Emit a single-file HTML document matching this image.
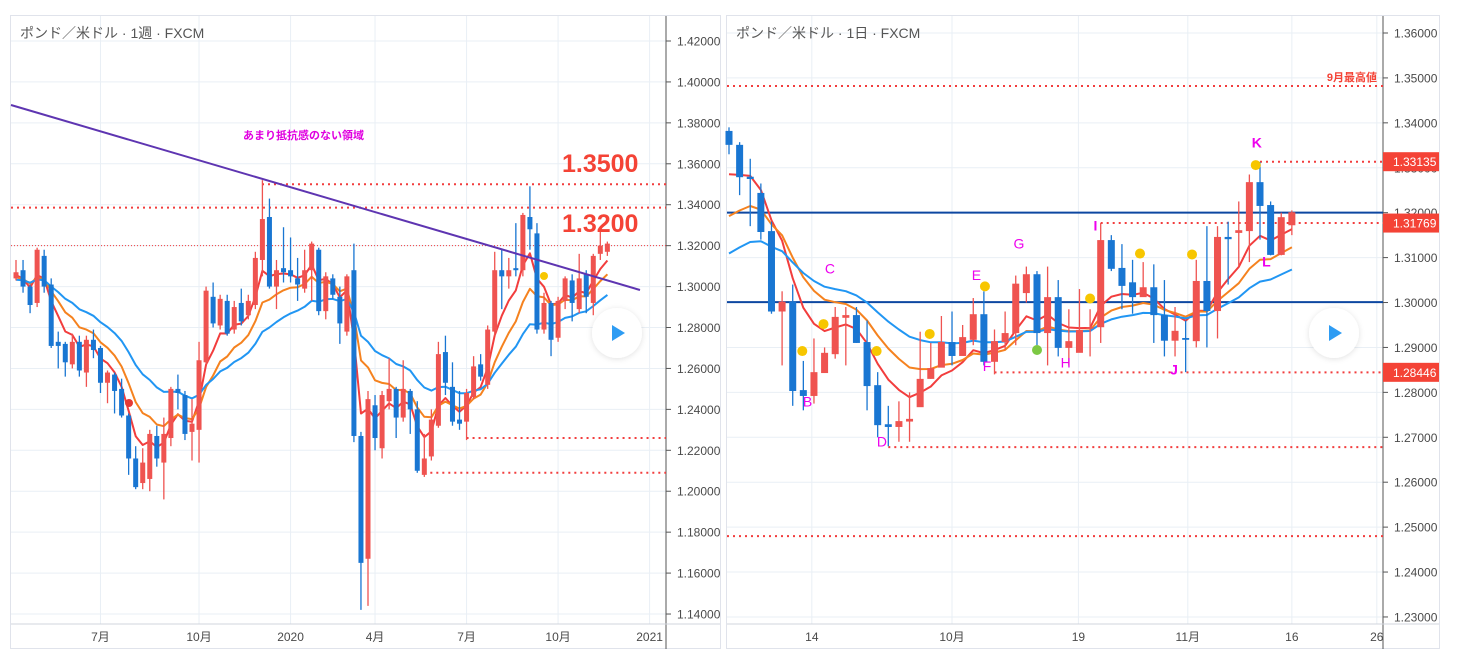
<!DOCTYPE html>
<html><head><meta charset="utf-8"><style>
html,body{margin:0;padding:0;background:#fff;}
svg{display:block;font-family:"Liberation Sans","Noto Sans CJK JP",sans-serif;}
</style></head><body>
<svg id="c" width="1459" height="659" viewBox="0 0 1459 659" xmlns="http://www.w3.org/2000/svg">
<defs>
<clipPath id="cl"><rect x="11" y="16" width="655" height="608"/></clipPath>
<clipPath id="cr"><rect x="727" y="16" width="656" height="608"/></clipPath>
<filter id="sh" x="-50%" y="-50%" width="200%" height="200%"><feDropShadow dx="0" dy="1" stdDeviation="3" flood-color="#000" flood-opacity="0.12"/></filter>
</defs>
<rect x="10.5" y="15.5" width="710" height="633" fill="#fff" stroke="#e0e3eb"/>
<rect x="726.5" y="15.5" width="713" height="633" fill="#fff" stroke="#e0e3eb"/>
<g id="L"></g><g id="R"></g>
</svg>
<script>
// ---------- weekly chart data ----------
const wOpen=[1.304,1.308,1.300,1.292,1.315,1.301,1.273,1.272,1.262,1.273,1.258,1.274,1.270,1.253,1.257,1.250,1.237,1.216,1.204,1.206,1.227,1.214,1.226,1.250,1.247,1.229,1.230,1.263,1.295,1.281,1.293,1.279,1.292,1.286,1.291,1.313,1.334,1.300,1.309,1.308,1.304,1.299,1.308,1.318,1.288,1.304,1.295,1.278,1.308,1.227,1.167,1.242,1.221,1.244,1.250,1.236,1.249,1.240,1.208,1.217,1.232,1.268,1.251,1.235,1.234,1.246,1.262,1.252,1.278,1.308,1.305,1.309,1.308,1.334,1.326,1.279,1.292,1.275,1.293,1.303,1.289,1.306,1.292,1.316,1.317];
const wClose=[1.307,1.300,1.291,1.318,1.300,1.271,1.271,1.263,1.273,1.259,1.274,1.269,1.253,1.258,1.249,1.237,1.216,1.202,1.214,1.228,1.216,1.228,1.250,1.248,1.228,1.233,1.264,1.298,1.282,1.294,1.277,1.290,1.283,1.293,1.314,1.333,1.300,1.308,1.307,1.305,1.301,1.308,1.321,1.288,1.305,1.296,1.282,1.305,1.227,1.165,1.245,1.226,1.247,1.250,1.236,1.250,1.240,1.210,1.216,1.235,1.267,1.253,1.234,1.233,1.248,1.261,1.256,1.279,1.308,1.305,1.308,1.308,1.335,1.328,1.279,1.292,1.274,1.293,1.304,1.292,1.304,1.295,1.315,1.320,1.321];
const wHigh=[1.313,1.313,1.301,1.319,1.318,1.304,1.278,1.273,1.277,1.276,1.276,1.279,1.271,1.259,1.258,1.255,1.238,1.222,1.221,1.230,1.232,1.236,1.251,1.257,1.249,1.245,1.273,1.300,1.302,1.296,1.296,1.293,1.299,1.296,1.317,1.352,1.343,1.313,1.329,1.324,1.314,1.318,1.322,1.319,1.307,1.306,1.300,1.306,1.321,1.229,1.249,1.247,1.249,1.265,1.251,1.264,1.250,1.244,1.228,1.240,1.273,1.276,1.263,1.249,1.250,1.266,1.267,1.281,1.317,1.318,1.314,1.331,1.336,1.349,1.331,1.297,1.293,1.295,1.305,1.306,1.316,1.308,1.316,1.328,1.322];
const wLow=[1.303,1.297,1.287,1.290,1.297,1.270,1.260,1.256,1.260,1.256,1.251,1.265,1.248,1.243,1.238,1.236,1.208,1.201,1.201,1.200,1.212,1.196,1.222,1.240,1.225,1.215,1.214,1.262,1.280,1.279,1.276,1.277,1.281,1.284,1.289,1.305,1.299,1.289,1.302,1.302,1.293,1.297,1.293,1.286,1.284,1.294,1.272,1.276,1.224,1.142,1.144,1.220,1.216,1.240,1.226,1.234,1.228,1.209,1.207,1.215,1.231,1.247,1.232,1.230,1.225,1.245,1.254,1.250,1.276,1.289,1.299,1.305,1.305,1.318,1.277,1.277,1.266,1.273,1.289,1.283,1.287,1.287,1.286,1.313,1.315];
const wTicks=[1.42,1.40,1.38,1.36,1.34,1.32,1.30,1.28,1.26,1.24,1.22,1.20,1.18,1.16,1.14];
const wXLabels=["7月","10月","2020","4月","7月","10月","2021"];
const wXIndex=[12,26,39,51,64,77,90];
const wLevels=[1.3500,1.3386,1.3200,1.2260,1.2090];
const wLevelStart=[35,0,0,64,58];
// ---------- daily chart data ----------
const dOpen=[1.3382,1.3351,1.3280,1.3244,1.3159,1.2980,1.3002,1.2805,1.2792,1.2843,1.2885,1.2966,1.2972,1.2912,1.2816,1.2729,1.2723,1.2735,1.2767,1.2830,1.2855,1.2912,1.2881,1.2917,1.2974,1.2868,1.2912,1.2932,1.3021,1.3063,1.2932,1.3012,1.2899,1.2888,1.2943,1.2945,1.3139,1.3077,1.3045,1.3012,1.3034,1.2972,1.2915,1.2921,1.2914,1.3048,1.2981,1.3146,1.3155,1.3159,1.3268,1.3217,1.3106,1.3172];
const dClose=[1.3351,1.3279,1.3275,1.3157,1.2980,1.3002,1.2803,1.2792,1.2845,1.2888,1.2968,1.2972,1.2910,1.2814,1.2727,1.2723,1.2736,1.2741,1.2830,1.2854,1.2912,1.2881,1.2923,1.2974,1.2868,1.2914,1.2932,1.3042,1.3063,1.2932,1.3012,1.2899,1.2914,1.2939,1.2945,1.3139,1.3075,1.3037,1.3012,1.3034,1.2972,1.2915,1.2937,1.2917,1.3048,1.2981,1.3146,1.3141,1.3161,1.3268,1.3215,1.3106,1.3190,1.3201];
const dHigh=[1.3390,1.3357,1.3320,1.3265,1.3180,1.3025,1.3040,1.2870,1.2920,1.2900,1.2990,1.2990,1.2990,1.2960,1.2845,1.2770,1.2780,1.2800,1.2935,1.2910,1.2970,1.2980,1.2950,1.3010,1.3025,1.2940,1.2980,1.3060,1.3080,1.3070,1.3080,1.3050,1.2985,1.3030,1.2985,1.3177,1.3150,1.3130,1.3095,1.3090,1.3085,1.3050,1.2990,1.2960,1.3095,1.3170,1.3170,1.3180,1.3225,1.3285,1.3313,1.3225,1.3200,1.3205];
const dLow=[1.3330,1.3239,1.3170,1.3140,1.2975,1.2860,1.2770,1.2760,1.2775,1.2860,1.2875,1.2860,1.2910,1.2760,1.2700,1.2680,1.2690,1.2690,1.2770,1.2830,1.2860,1.2860,1.2890,1.2905,1.2860,1.2840,1.2895,1.2905,1.3000,1.2905,1.2860,1.2880,1.2860,1.2890,1.2880,1.2910,1.3070,1.2985,1.2975,1.3020,1.2910,1.2880,1.2880,1.2845,1.2900,1.2900,1.2920,1.3040,1.3080,1.3090,1.3140,1.3105,1.3105,1.3150];
const dTicks=[1.36,1.35,1.34,1.33,1.32,1.31,1.30,1.29,1.28,1.27,1.26,1.25,1.24,1.23];
const dXLabels=["14","10月","19","11月","16","26"];
const dXIndex=[7.8,21,32.9,43.2,53,61];
const dNavy=[1.3200,1.3001];
const dDotted=[1.3482,1.33135,1.31769,1.28446,1.2678,1.2480];
const dDottedStart=[-1,50,35,25,15,-1];
const dBoxes=[1.33135,1.31769,1.28446];
const dLetters=["B","C","D","E","F","G","H","I","J","K","L"];
const dLetterIdx=[7.4,9.5,14.4,23.3,24.3,27.3,31.7,34.5,41.9,49.7,50.6];
const dLetterPrice=[1.2769,1.3065,1.2680,1.3050,1.2847,1.3120,1.2855,1.3160,1.2840,1.3345,1.3080];
const dDotIdx=[6.9,8.9,13.9,18.9,24.1,34,38.7,43.6,49.6];
const dDotPrice=[1.2892,1.2952,1.2892,1.2930,1.3036,1.3009,1.3109,1.3107,1.3306];

const NS="http://www.w3.org/2000/svg";
function mk(parent,tag,attrs,text){const e=document.createElementNS(NS,tag);for(const k in attrs)e.setAttribute(k,attrs[k]);if(text!==undefined)e.textContent=text;parent.appendChild(e);return e;}
function ema(vals,n,seed){const a=2/(n+1);let v=seed;return vals.map(c=>{v=v+a*(c-v);return v;});}

function drawChart(g,cfg){
  const {x,y,ticks,fmt,left,right,axisX,top,bottom,cw}=cfg;
  ticks.forEach(t=>{const yy=y(t);
    const gl=mk(g,'line',{x1:left,x2:axisX,y1:yy,y2:yy,stroke:'#e9eff5','stroke-width':1});
    
    mk(g,'line',{x1:axisX,x2:axisX+5,y1:yy,y2:yy,stroke:'#555'});
    const tl=mk(g,'text',{x:axisX+11,y:yy+4.5,'font-size':12,fill:'#4a4a4a'},fmt(t));
    
  });
  cfg.xIdx.forEach((xi,k)=>{const xx=x(xi);
    const gl=mk(g,'line',{x1:xx,x2:xx,y1:top,y2:bottom,stroke:'#e9eff5'});
    
    const tl=mk(g,'text',{x:xx,y:bottom+17,'font-size':12,fill:'#4a4a4a','text-anchor':'middle'},cfg.xLab[k]);
    
  });
  const ax=mk(g,'line',{x1:axisX,x2:axisX,y1:top,y2:bottom+25,stroke:'#555','stroke-width':1});
  
  const bx=mk(g,'line',{x1:left,x2:right,y1:bottom,y2:bottom,stroke:'#d0d4dc'});
  
}
function drawCandles(g,cfg,O,C,H,L){
  const {x,y,cw}=cfg;
  O.forEach((o,i)=>{const c=C[i];const up=c>=o;const col=up?'#ef5350':'#1976d2';const xx=x(i);
    const cg=mk(g,'g',{});
    
    mk(cg,'line',{x1:xx,x2:xx,y1:y(H[i]),y2:y(L[i]),stroke:col,'stroke-width':1.3});
    const t=y(Math.max(o,c)),b=y(Math.min(o,c));
    mk(cg,'rect',{x:xx-cw/2,y:t,width:cw,height:Math.max(1.5,b-t),fill:col});
  });
}
function drawMAs(g,cfg,C,periods,seeds,clip){
  const cols=['#f23d3d','#f5821f','#2196f3'];const nm=['ma-fast','ma-mid','ma-slow'];
  periods.forEach((p,k)=>{const v=ema(C,p,seeds[k]);
    const d=v.map((vv,i)=>(i?'L':'M')+cfg.x(i).toFixed(1)+' '+cfg.y(vv).toFixed(1)).join(' ');
    const pl=mk(g,'path',{d:d,fill:'none',stroke:cols[k],'stroke-width':2,'clip-path':clip,'stroke-linejoin':'round'});
    
  });
}
function play(g,cx,cy){
  const pg=mk(g,'g',{});
  
  mk(pg,'circle',{cx:cx,cy:cy,r:25,fill:'#fff',filter:'url(#sh)'});
  mk(pg,'path',{d:`M${cx-5} ${cy-8} L${cx+8} ${cy} L${cx-5} ${cy+8} Z`,fill:'#2e9cf3'});
}

// ---------- weekly ----------
const GL=document.getElementById('L');
const W={x:i=>16+i*7.04,y:p=>41+(1.42-p)/0.02*40.93,ticks:wTicks,fmt:t=>t.toFixed(5),left:11,right:720,axisX:666,top:16,bottom:624,cw:5,xIdx:wXIndex,xLab:wXLabels};
drawChart(GL,W);
wLevels.forEach((lv,k)=>{const l=mk(GL,'line',{x1:k===0?262:(wLevelStart[k]?W.x(wLevelStart[k]):11),x2:666,y1:W.y(lv),y2:W.y(lv),stroke:'#f23d3d','stroke-width':k===2?1:2,'stroke-dasharray':k===2?'1 2':'2 4'});
  });
drawMAs(GL,W,wClose,[5,10,20],[1.305,1.304,1.303],'url(#cl)');
drawCandles(GL,W,wOpen,wClose,wHigh,wLow);
const tr=mk(GL,'line',{x1:11,y1:105,x2:640,y2:290,stroke:'#5e35b1','stroke-width':2});

const wd=mk(GL,'circle',{cx:129,cy:403,r:4,fill:'#e53935'});
const wy=mk(GL,'circle',{cx:544,cy:276,r:4,fill:'#f7c600'});
const a1=mk(GL,'text',{x:562,y:172,'font-size':25,'font-weight':'bold',fill:'#f44336'},'1.3500');
const a2=mk(GL,'text',{x:562,y:232,'font-size':25,'font-weight':'bold',fill:'#f44336'},'1.3200');
const a3=mk(GL,'text',{x:243,y:139,'font-size':11,'font-weight':'bold',fill:'#e000e0'},'あまり抵抗感のない領域');
const t1=mk(GL,'text',{x:20,y:38,'font-size':14,fill:'#555'},'ポンド／米ドル · 1週 · FXCM');
play(GL,617,333);

// ---------- daily ----------
const GR=document.getElementById('R');
const D={x:i=>729+i*10.62,y:p=>33+(1.36-p)*4492,ticks:dTicks,fmt:t=>t.toFixed(5),left:727,right:1439,axisX:1383,top:16,bottom:624,cw:7,xIdx:dXIndex,xLab:dXLabels};
drawChart(GR,D);
dNavy.forEach(lv=>{const l=mk(GR,'line',{x1:727,x2:1383,y1:D.y(lv),y2:D.y(lv),stroke:'#0d47a1','stroke-width':2});
  });
dDotted.forEach((lv,k)=>{const l=mk(GR,'line',{x1:dDottedStart[k]<0?727:D.x(dDottedStart[k]),x2:1383,y1:D.y(lv),y2:D.y(lv),stroke:'#f23d3d','stroke-width':2,'stroke-dasharray':'2 4'});
  });
const sl=mk(GR,'text',{x:1377,y:81,'font-size':11,'font-weight':'bold',fill:'#f44336','text-anchor':'end'},'9月最高値');
drawMAs(GR,D,dClose,[7,13,24],[1.3264,1.3166,1.3088],'url(#cr)');
drawCandles(GR,D,dOpen,dClose,dHigh,dLow);
dDotIdx.forEach((xi,k)=>{const c=mk(GR,'circle',{cx:D.x(xi),cy:D.y(dDotPrice[k]),r:5,fill:'#f7c600'});
  });
const gd=mk(GR,'circle',{cx:1037,cy:350,r:5,fill:'#7cc843'});
dLetters.forEach((s,k)=>{const t=mk(GR,'text',{x:D.x(dLetterIdx[k]),y:D.y(dLetterPrice[k]),'font-size':14,fill:'#ee00ee','text-anchor':'middle','font-weight':(s==='K'||s==='L'||s==='I'||s==='J')?'bold':'normal'},s);
  });
dBoxes.forEach(lv=>{const yy=D.y(lv);const bg=mk(GR,'g',{});
  
  mk(bg,'rect',{x:1383,y:yy-9.5,width:56,height:19,fill:'#f44336'});
  mk(bg,'text',{x:1393,y:yy+4.5,'font-size':12,fill:'#fff'},lv.toFixed(5));});
const t2=mk(GR,'text',{x:736,y:38,'font-size':14,fill:'#555'},'ポンド／米ドル · 1日 · FXCM');
play(GR,1334,333);
</script>
</body></html>
